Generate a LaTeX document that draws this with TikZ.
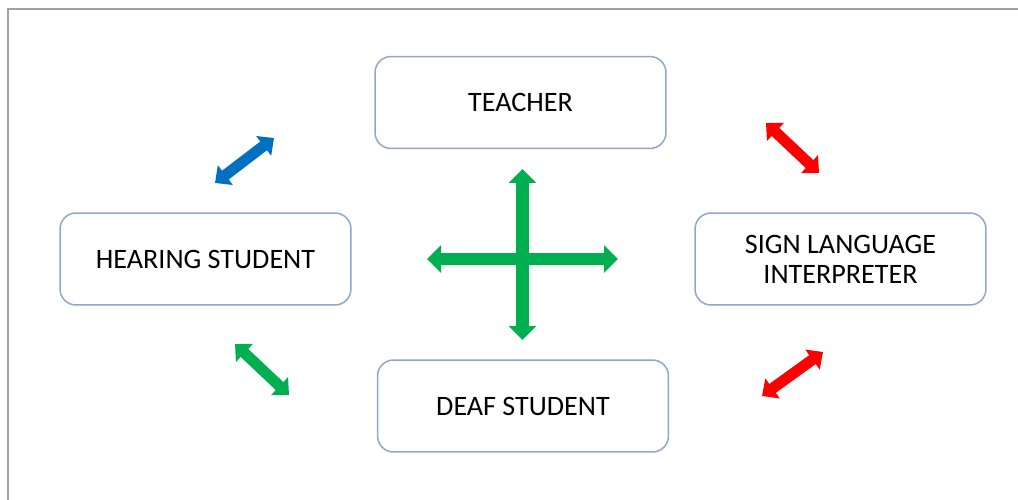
\documentclass[tikz,border=0pt]{standalone}
\usepackage{fontspec}
\setmainfont{Carlito}
\usetikzlibrary{arrows.meta}
\definecolor{boxline}{RGB}{143,166,206}
\definecolor{framegray}{RGB}{160,160,160}
\definecolor{linkblue}{RGB}{0,112,192}
\definecolor{linkred}{RGB}{255,0,0}
\definecolor{linkgreen}{RGB}{0,176,80}

\begin{document}
\begin{tikzpicture}[x=0.02cm,y=-0.02cm,
	party/.style={draw=boxline, line width=0.85pt, rounded corners=0.32cm, fill=white, minimum width=5.82cm, minimum height=1.84cm, align=center, text=black, font=\fontsize{16}{17}\selectfont},
	link/.style={line width=0.22cm, {Triangle[width=0.48cm,length=0.26cm]}-{Triangle[width=0.48cm,length=0.26cm]}},
	cross/.style={linkgreen, line width=0.26cm, {Triangle[width=0.54cm,length=0.28cm]}-{Triangle[width=0.54cm,length=0.28cm]}}]
	\useasboundingbox (0,0) rectangle (1018,500);
	\draw[framegray, line width=1.5pt] (8,500) -- (8,9) -- (1018,9);
	% the four parties
	\node[party] (teacher) at (520.5,102.5) {TEACHER};
	\node[party] (hearing) at (205.5,259) {HEARING STUDENT};
	\node[party] (interp) at (840.5,259) {SIGN LANGUAGE\\INTERPRETER};
	\node[party] (deaf) at (523,406) {DEAF STUDENT};
	% ends of the links
	\coordinate (ht-a) at (215,183);
	\coordinate (ht-b) at (274,138);
	\coordinate (ti-a) at (766,123);
	\coordinate (ti-b) at (819,173);
	\coordinate (hd-a) at (235,344);
	\coordinate (hd-b) at (289,395);
	\coordinate (di-a) at (762,396);
	\coordinate (di-b) at (823,352);
	\coordinate (mid-l) at (427,259);
	\coordinate (mid-r) at (618,259);
	\coordinate (mid-t) at (522.5,169);
	\coordinate (mid-b) at (522.5,340);
	\draw[link, linkblue] (ht-a) -- (ht-b);
	\draw[link, linkred] (ti-a) -- (ti-b);
	\draw[link, linkgreen] (hd-a) -- (hd-b);
	\draw[link, linkred] (di-a) -- (di-b);
	\draw[cross] (mid-l) -- (mid-r);
	\draw[cross] (mid-t) -- (mid-b);
\end{tikzpicture}
\end{document}
